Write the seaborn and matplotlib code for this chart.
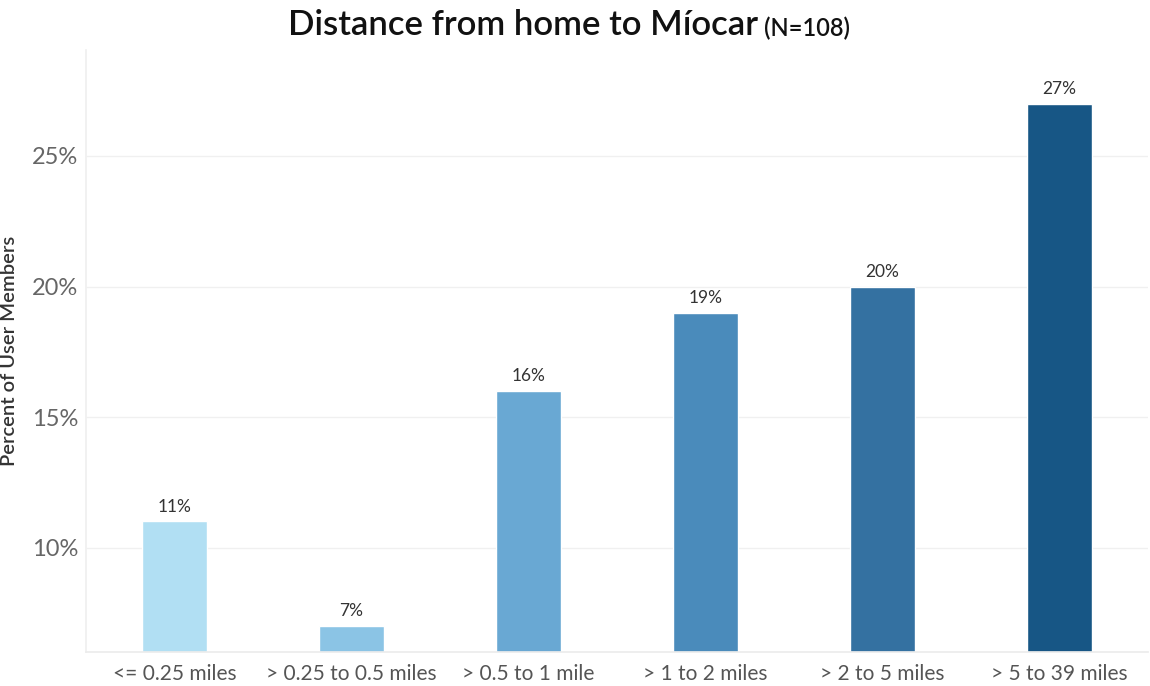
import matplotlib
matplotlib.use("Agg")
import matplotlib.pyplot as plt
import seaborn as sns
import pandas as pd
from matplotlib.ticker import FuncFormatter, FixedLocator

categories = ["<= 0.25 miles", "> 0.25 to 0.5 miles", "> 0.5 to 1 mile",
              "> 1 to 2 miles", "> 2 to 5 miles", "> 5 to 39 miles"]
percents = [11, 7, 16, 19, 20, 27]
bar_colors = ["#b1dff3", "#8bc4e5", "#69a8d3", "#4a8bbb", "#3471a1", "#175685"]
y_ticks = [10, 15, 20, 25]

df = pd.DataFrame({"Distance": categories, "Percent": percents})

sns.set_theme(style="white")
plt.rcParams["font.family"] = ["Lato", "DejaVu Sans"]

fig = plt.figure(figsize=(11.5, 6.86), dpi=100)
ax = fig.add_axes([0.075, 0.0496, 0.923, 0.8775])

sns.barplot(data=df, x="Distance", y="Percent", hue="Distance", palette=bar_colors,
            width=0.37, legend=False, ax=ax, saturation=1)

ax.set_ylim(6, 29.06)
ax.set_xlim(-0.5, len(categories) - 0.5)
ax.yaxis.set_major_locator(FixedLocator(y_ticks))
ax.yaxis.set_major_formatter(FuncFormatter(lambda v, p: f"{v:.0f}%"))
ax.grid(axis="y", color="#f0f0f0", linewidth=1)
ax.set_axisbelow(True)

for s in ["top", "right"]:
    ax.spines[s].set_visible(False)
ax.spines["left"].set_color("#f0f0f0")
ax.spines["bottom"].set_color("#ececec")

ax.tick_params(axis="y", labelsize=17, labelcolor="#666666", length=0, pad=6)
ax.tick_params(axis="x", labelsize=15, labelcolor="#555555", length=0, pad=9)
# category dividers under the axis
ax.set_xticks([i + 0.5 for i in range(len(categories) - 1)], minor=True)
ax.tick_params(axis="x", which="minor", length=16, color="#ececec", width=1)

ax.set_xlabel("")
ax.set_ylabel("Percent of User Members", fontsize=14.5, color="#333333",
              fontweight="semibold", labelpad=10)

for i, v in enumerate(percents):
    ax.text(i, v + 0.25, f"{v}%", ha="center", va="bottom", fontsize=12.5, color="#333333")

# two-part title, centred as one line
t1 = fig.text(0, 0.963, "Distance from home to Míocar", fontsize=25,
              fontweight="semibold", color="#111111", ha="left", va="center")
t2 = fig.text(0, 0.958, "(N=108)", fontsize=17, fontweight="semibold",
              color="#111111", ha="left", va="center")
fig.canvas.draw()
w1 = t1.get_window_extent().width / fig.bbox.width
w2 = t2.get_window_extent().width / fig.bbox.width
gap = 0.006
x0 = 569 / 1150 - (w1 + gap + w2) / 2
t1.set_x(x0)
t2.set_x(x0 + w1 + gap)

fig.savefig("out.png", dpi=100)
